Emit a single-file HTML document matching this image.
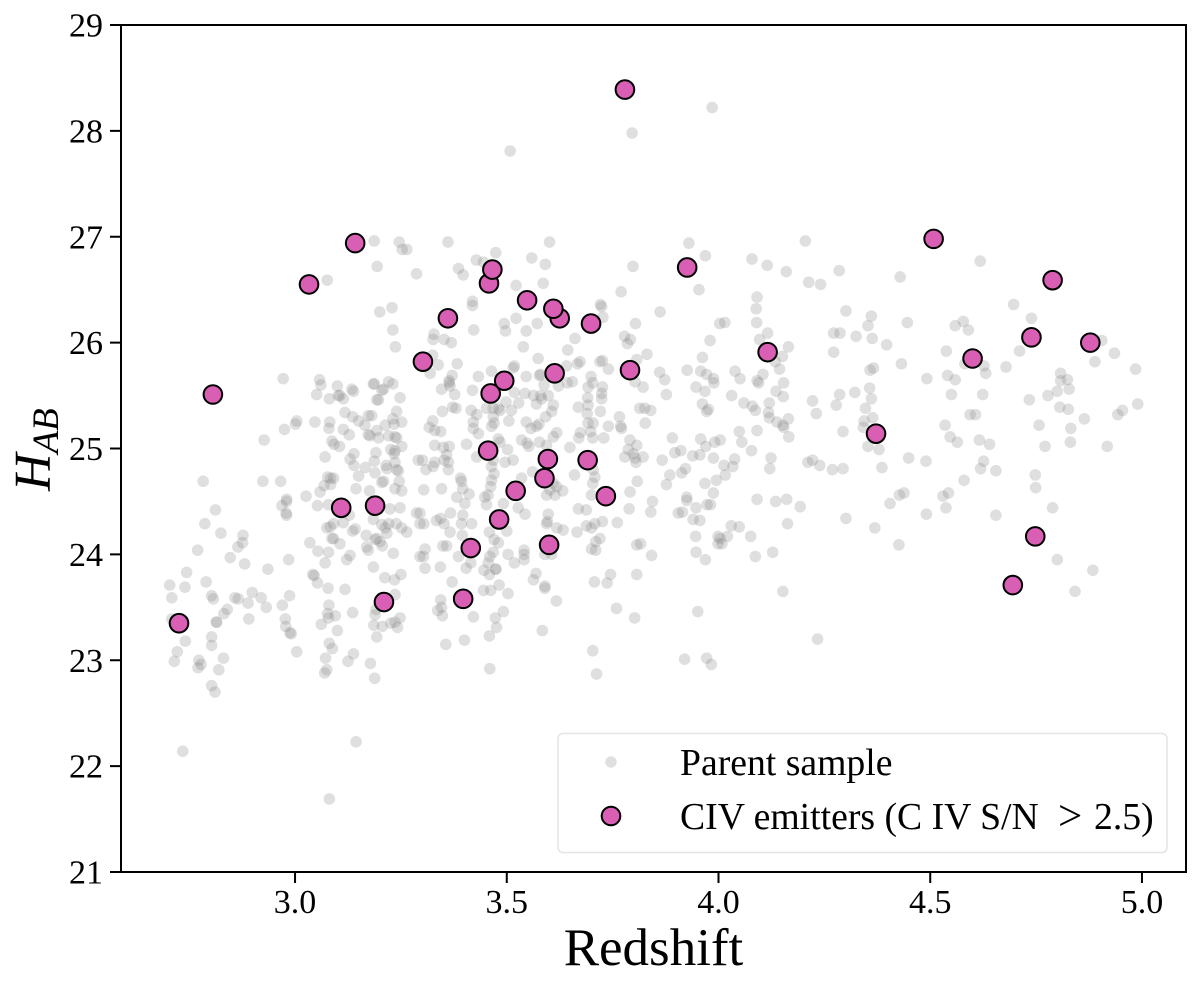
<!DOCTYPE html>
<html lang="en">
<head>
<meta charset="utf-8">
<title>Redshift vs H_AB</title>
<style>
html,body{margin:0;padding:0;background:#fff;}
svg{display:block;font-family:"Liberation Serif","DejaVu Serif",serif;}
</style>
</head>
<body>
<svg id="chart" xmlns="http://www.w3.org/2000/svg" width="1200" height="990" viewBox="0 0 1200 990">
  <rect x="0" y="0" width="1200" height="990" fill="#ffffff"/>
  <g id="parent-layer"></g>
  <g id="civ-layer"></g>
  <rect x="121" y="25" width="1065" height="847" fill="none" stroke="#000" stroke-width="2"/>
  <g id="x-ticks"></g>
  <g id="y-ticks"></g>
  <text x="653.5" y="965" font-size="53" text-anchor="middle" fill="#000">Redshift</text>
  <text transform="translate(50,491) rotate(-90)" fill="#000" font-style="italic" font-size="52">H<tspan font-size="37" dy="8">AB</tspan></text>
  <g>
    <rect x="558" y="733.5" width="609" height="119" rx="5" ry="5" fill="#fff" fill-opacity="0.8" stroke="#e4e4e4" stroke-width="1.5"/>
    <circle cx="611" cy="762" r="5.7" fill="#808080" fill-opacity="0.25"/>
    <text x="680" y="775" font-size="37.7" fill="#000">Parent sample</text>
    <circle cx="611" cy="816" r="9.3" fill="#d95fb5" stroke="#000" stroke-width="2"/>
    <text x="680" y="829" font-size="37.7" fill="#000">CIV emitters (C IV S/N<tspan x="1058" dy="1" font-size="43">&gt;</tspan><tspan x="1094" dy="-1">2.5)</tspan></text>
  </g>
</svg>
<script>
const xTickLabels = ["3.0","3.5","4.0","4.5","5.0"];
const yTickLabels = ["21","22","23","24","25","26","27","28","29"];
const xDomain = [2.589, 5.104];
const yDomain = [21, 29];
const civEmitters = [
[2.726,23.35],[2.806,25.51],[3.033,26.55],[3.142,26.94],[3.109,24.44],[3.189,24.46],[3.210,23.55],[3.302,25.82],
[3.361,26.23],[3.458,26.56],[3.466,26.69],[3.462,25.52],[3.494,25.64],[3.456,24.98],[3.548,26.40],[3.625,26.23],
[3.610,26.32],[3.699,26.18],[3.613,25.71],[3.791,25.74],[3.779,28.39],[3.926,26.71],[3.597,24.90],[3.589,24.72],
[3.691,24.89],[3.521,24.60],[3.734,24.55],[3.482,24.33],[3.600,24.09],[3.415,24.06],[3.397,23.58],[4.508,26.98],
[4.789,26.59],[4.116,25.91],[4.739,26.05],[4.878,26.00],[4.600,25.85],[4.372,25.14],[4.748,24.17],[4.695,23.71]
];
const parentSample = [
[3.508,27.81],[3.796,27.98],[3.985,28.22],
[3.187,26.96],[3.246,26.95],[3.253,26.88],[3.264,26.88],[3.194,26.72],[3.287,26.65],[3.076,26.59],[3.229,26.33],[3.200,26.29],[3.231,26.12],[3.237,25.96],
[2.972,25.66],[3.058,25.65],[3.061,25.60],[3.100,25.59],[3.051,25.51],[3.081,25.47],[3.102,25.50],[3.106,25.50],[3.114,25.47],[3.134,25.56],[3.138,25.54],
[3.185,25.61],[3.187,25.61],[3.205,25.55],[3.209,25.56],[3.221,25.63],[3.231,25.61],[3.248,25.48],[3.193,25.46],[3.197,25.46],[3.118,25.34],[3.136,25.30],
[3.150,25.26],[3.165,25.22],[3.173,25.31],[3.181,25.31],[3.240,25.35],[3.252,25.25],[3.231,25.28],[3.213,25.22],[3.234,25.23],[3.193,25.17],[3.177,25.12],
[3.197,25.10],[3.173,25.13],[3.221,25.12],[3.236,25.11],[3.240,25.10],[3.252,25.02],[3.004,25.26],[3.001,25.23],[2.975,25.18],[3.047,25.25],[3.082,25.25],
[3.080,25.19],[3.114,25.18],[3.128,25.13],[2.927,25.08],[3.087,25.07],[3.092,25.04],[3.105,25.02],[3.139,24.95],[3.191,24.96],[3.226,24.99],[3.236,24.98],
[3.234,24.95],[3.071,24.92],[3.130,24.90],[3.139,24.84],[3.166,24.82],[3.187,24.88],[3.189,24.77],[3.217,24.81],[3.215,24.84],[3.236,24.87],[3.240,24.80],
[3.244,24.79],[3.291,24.89],[3.150,24.74],[3.077,24.73],[3.084,24.72],[3.091,24.72],[3.069,24.65],[3.084,24.66],[3.205,24.68],[3.209,24.69],[3.246,24.69],
[2.783,24.69],[2.924,24.69],[2.966,24.69],[3.144,24.62],[3.176,24.60],[3.236,24.62],[3.252,24.60],[3.059,24.59],[3.026,24.55],[2.980,24.52],
[2.812,24.42],[2.787,24.29],[2.825,24.20],[2.877,24.18],[2.876,24.11],[2.865,24.07],[2.770,24.04],[2.847,23.97],[2.881,23.91],[2.936,23.86],[2.744,23.83],
[2.790,23.74],[2.704,23.71],[2.740,23.69],[2.709,23.59],[2.803,23.61],[2.807,23.58],[2.858,23.59],[2.866,23.58],[2.889,23.54],[2.899,23.64],[2.920,23.59],
[2.932,23.50],[2.840,23.48],[2.832,23.44],[2.891,23.39],[2.814,23.36],[2.815,23.36],[2.709,23.39],[2.803,23.22],[2.803,23.14],[2.741,23.18],[2.722,23.08],
[2.715,22.99],[2.773,23.00],[2.778,22.96],[2.771,22.93],[2.831,23.02],[2.820,22.91],[2.803,22.76],[2.811,22.70],[2.735,22.14],[3.144,22.23],[3.081,21.69],
[2.969,24.46],[2.980,24.50],[2.979,24.39],[2.980,24.37],[2.985,23.95],[2.987,23.61],[2.970,23.52],[2.977,23.39],[2.978,23.32],[2.988,23.26],[2.991,23.25],
[3.004,23.08],[3.053,24.46],[3.079,24.47],[3.091,24.29],[3.075,24.25],[3.083,24.26],[3.114,24.30],[3.128,24.37],[3.136,24.22],[3.142,24.24],[3.087,24.15],
[3.091,24.15],[3.106,24.10],[3.035,24.11],[3.054,24.03],[3.079,24.02],[3.071,23.92],[3.130,23.99],[3.122,23.95],[3.042,23.81],[3.045,23.80],[3.053,23.73],
[3.078,23.68],[3.118,23.67],[3.080,23.52],[3.077,23.44],[3.095,23.42],[3.079,23.40],[3.062,23.34],[3.136,23.45],[3.100,23.28],[3.081,23.16],[3.088,23.11],
[3.072,23.02],[3.138,23.06],[3.125,22.99],[3.075,22.91],[3.070,22.88],[3.178,22.97],[3.188,22.83],[3.168,24.18],[3.185,24.33],[3.205,24.28],[3.221,24.29],
[3.239,24.29],[3.252,24.25],[3.264,24.21],[3.217,24.20],[3.213,24.25],[3.193,24.15],[3.201,24.12],[3.189,24.14],[3.169,24.07],[3.173,24.04],[3.206,24.08],
[3.232,24.01],[3.185,23.88],[3.212,23.78],[3.235,23.76],[3.250,23.81],[3.236,23.62],[3.191,23.48],[3.189,23.43],[3.186,23.33],[3.206,23.32],[3.226,23.35],
[3.236,23.36],[3.248,23.40],[3.242,23.31],[3.193,23.22],[3.224,24.43],[3.248,24.44],[3.287,24.39],[3.295,24.29],[3.295,23.98],
[3.361,26.95],[3.601,26.95],[3.930,26.94],[3.969,26.82],[3.474,26.85],[3.428,26.78],[3.445,26.76],[3.559,26.80],[3.591,26.74],[3.386,26.70],[3.397,26.64],
[3.798,26.72],[3.522,26.54],[3.586,26.56],[3.770,26.48],[3.954,26.50],[3.419,26.39],[3.419,26.35],[3.721,26.36],[3.724,26.34],[3.727,26.24],[3.862,26.29],
[3.522,26.23],[3.494,26.18],[3.497,26.11],[3.422,26.12],[3.546,26.11],[3.572,26.18],[3.804,26.18],[4.003,26.18],[3.328,26.08],[3.326,26.03],[3.352,26.03],
[3.369,26.00],[3.661,26.04],[3.778,26.06],[3.792,26.03],[3.785,25.99],[3.980,26.02],[3.539,25.96],[3.644,25.93],[3.325,25.88],[3.338,25.79],[3.319,25.71],
[3.383,25.80],[3.574,25.85],[3.831,25.89],[3.962,25.86],[3.518,25.78],[3.515,25.76],[3.464,25.73],[3.433,25.68],[3.546,25.68],[3.580,25.70],[3.577,25.69],
[3.641,25.78],[3.667,25.80],[3.673,25.82],[3.720,25.82],[3.726,25.83],[3.740,25.75],[3.807,25.84],[3.861,25.72],[3.926,25.74],[3.958,25.73],[3.972,25.70],
[3.988,25.66],[3.989,25.62],[3.873,25.65],[3.803,25.63],[3.822,25.58],[3.947,25.58],[3.968,25.54],[3.877,25.51],[3.371,25.69],[3.364,25.64],[3.364,25.62],
[3.366,25.59],[3.346,25.56],[3.377,25.51],[3.419,25.55],[3.518,25.53],[3.543,25.52],[3.563,25.50],[3.580,25.50],[3.598,25.50],[3.588,25.60],[3.622,25.59],
[3.643,25.62],[3.655,25.63],[3.699,25.68],[3.703,25.62],[3.692,25.58],[3.726,25.58],[3.724,25.52],[3.724,25.47],[3.691,25.48],[3.692,25.41],[3.669,25.39],
[3.690,25.33],[3.721,25.35],[3.814,25.38],[3.826,25.38],[3.840,25.36],[3.962,25.42],[3.976,25.37],[3.972,25.35],[3.498,25.44],[3.528,25.43],[3.480,25.38],
[3.511,25.36],[3.452,25.38],[3.468,25.38],[3.484,25.36],[3.570,25.42],[3.582,25.47],[3.610,25.41],[3.606,25.35],[3.592,25.30],[3.576,25.23],[3.570,25.21],
[3.557,25.19],[3.546,25.25],[3.505,25.26],[3.468,25.30],[3.470,25.24],[3.464,25.21],[3.416,25.36],[3.429,25.32],[3.421,25.25],[3.421,25.19],[3.433,25.14],
[3.372,25.39],[3.380,25.38],[3.348,25.35],[3.325,25.26],[3.317,25.20],[3.330,25.17],[3.344,25.16],[3.766,25.30],[3.769,25.21],[3.771,25.19],[3.740,25.21],
[3.704,25.24],[3.692,25.24],[3.698,25.16],[3.703,25.10],[3.674,25.15],[3.670,25.10],[3.729,25.10],[3.827,25.24],[3.618,25.15],[3.610,25.11],[3.594,25.03],
[3.577,25.06],[3.535,25.08],[3.548,25.05],[3.552,25.02],[3.480,25.09],[3.484,25.06],[3.502,24.99],[3.405,25.04],[3.330,25.03],[3.364,25.02],[3.350,25.01],
[3.358,24.94],[3.352,24.89],[3.362,24.87],[3.362,24.80],[3.330,24.87],[3.326,24.83],[3.309,24.80],[3.301,24.89],[3.429,24.92],[3.496,24.87],[3.515,24.89],
[3.468,24.89],[3.464,24.83],[3.470,24.76],[3.464,24.70],[3.462,24.64],[3.456,24.56],[3.448,24.54],[3.391,24.72],[3.393,24.69],[3.396,24.62],[3.411,24.57],
[3.346,24.62],[3.304,24.61],[3.382,24.54],[3.535,24.72],[3.561,24.78],[3.610,24.67],[3.618,24.64],[3.602,24.61],[3.632,24.60],[3.594,24.56],[3.614,24.56],
[3.649,25.01],[3.660,24.75],[3.704,24.80],[3.708,24.73],[3.703,24.67],[3.700,24.56],[3.791,25.08],[3.807,25.03],[3.787,24.99],[3.799,24.95],[3.779,24.92],
[3.803,24.91],[3.805,24.87],[3.822,24.92],[3.867,24.89],[3.891,25.10],[3.897,24.96],[3.911,24.98],[3.939,24.93],[3.958,25.09],[3.956,24.94],[3.970,25.02],
[3.991,25.06],[3.988,24.91],[3.922,24.81],[3.913,24.77],[3.885,24.75],[3.808,24.69],[3.877,24.66],[3.791,24.59],[3.925,24.54],[3.968,24.67],[3.988,24.58],[3.995,24.70],
[3.295,24.39],[3.304,24.29],[3.334,24.32],[3.344,24.34],[3.352,24.29],[3.367,24.39],[3.396,24.37],[3.393,24.29],[3.417,24.29],[3.366,24.21],[3.395,24.18],
[3.307,24.05],[3.349,24.08],[3.358,24.08],[3.303,23.98],[3.386,23.98],[3.307,23.87],[3.343,23.88],[3.404,23.87],[3.415,23.92],[3.371,23.74],[3.344,23.57],
[3.346,23.50],[3.337,23.47],[3.348,23.42],[3.421,23.41],[3.400,23.19],[3.356,23.15],[3.460,22.92],[3.459,23.23],[3.476,23.31],[3.473,23.40],[3.492,23.46],
[3.503,23.63],[3.482,23.71],[3.462,23.66],[3.445,23.66],[3.474,23.86],[3.474,23.86],[3.459,23.81],[3.446,23.85],[3.456,23.92],[3.460,23.98],[3.468,24.02],
[3.480,24.11],[3.470,24.14],[3.459,24.21],[3.500,24.22],[3.543,24.38],[3.527,24.44],[3.492,24.48],[3.452,24.47],[3.401,24.48],[3.503,24.00],[3.518,23.92],
[3.541,24.04],[3.541,24.00],[3.541,23.95],[3.569,23.82],[3.563,23.76],[3.590,23.70],[3.590,23.68],[3.617,23.56],[3.584,23.28],[3.598,24.38],[3.596,24.31],
[3.594,24.29],[3.618,24.25],[3.633,24.23],[3.590,24.00],[3.606,24.00],[3.666,24.21],[3.688,24.27],[3.700,24.25],[3.708,24.29],[3.726,24.31],[3.761,24.30],
[3.720,24.15],[3.710,24.12],[3.700,24.05],[3.710,24.04],[3.807,24.09],[3.816,24.10],[3.842,23.99],[3.745,23.81],[3.737,23.73],[3.707,23.74],[3.807,23.81],
[3.759,23.49],[3.802,23.40],[3.703,23.09],[3.712,22.87],[3.920,23.01],[3.972,23.02],[3.983,22.96],[3.951,23.46],[3.946,24.17],[3.947,24.02],[3.969,23.95],
[3.940,24.33],[3.956,24.32],[3.905,24.39],[3.915,24.40],[3.840,24.40],[3.789,24.43],[3.669,24.43],[3.688,24.42],[3.947,24.44],[3.973,24.47],[3.981,24.47],
[3.999,24.17],[3.999,24.10],[3.925,24.51],[3.844,24.50],
[4.205,26.96],[4.079,26.79],[4.115,26.73],[4.160,26.67],[4.285,26.68],[4.213,26.57],[4.241,26.55],[4.429,26.62],[4.618,26.77],[4.091,26.43],[4.089,26.32],
[4.015,26.19],[4.090,26.19],[4.301,26.30],[4.361,26.25],[4.353,26.16],[4.446,26.19],[4.272,26.09],[4.287,26.09],[4.325,26.06],[4.363,26.04],[4.397,25.98],
[4.116,26.09],[4.097,26.03],[4.165,25.96],[4.272,25.91],[4.151,25.87],[4.134,25.82],[4.144,25.75],[4.039,25.73],[4.051,25.66],[4.105,25.70],[4.091,25.64],
[4.095,25.62],[4.154,25.62],[4.136,25.54],[4.153,25.49],[4.031,25.50],[4.060,25.43],[4.080,25.40],[4.087,25.36],[4.120,25.43],[4.118,25.34],[4.120,25.29],
[4.138,25.25],[4.165,25.28],[4.152,25.22],[4.154,25.20],[4.166,25.11],[4.091,25.17],[4.049,25.16],[4.055,25.06],[4.078,24.98],[4.004,25.08],[4.038,24.90],
[4.034,24.83],[4.013,24.84],[4.016,24.75],[4.124,24.91],[4.121,24.81],[4.211,24.87],[4.222,24.89],[4.239,24.84],[4.269,24.80],[4.294,24.81],[4.222,25.45],
[4.231,25.33],[4.278,25.41],[4.286,25.51],[4.322,25.53],[4.294,25.16],[4.357,25.57],[4.361,25.47],[4.347,25.38],[4.364,25.29],[4.344,25.26],[4.342,25.20],
[4.358,25.74],[4.366,25.76],[4.432,25.80],[4.353,25.02],[4.379,24.99],[4.386,24.82],[4.449,24.91],[4.490,24.88],[4.492,25.66],[4.538,25.92],[4.541,25.69],
[4.559,25.65],[4.550,25.51],[4.624,25.51],[4.559,26.16],[4.578,26.20],[4.590,26.12],[4.582,25.80],[4.627,25.78],[4.631,25.71],[4.679,25.77],[4.711,25.92],
[4.697,26.36],[4.739,26.23],[4.905,26.02],[4.935,25.90],[4.889,25.82],[4.985,25.75],[4.808,25.71],[4.808,25.64],[4.824,25.65],[4.828,25.56],[4.800,25.54],
[4.778,25.50],[4.734,25.46],[4.806,25.39],[4.826,25.37],[4.864,25.28],[4.832,25.19],[4.831,25.06],[4.771,25.02],[4.757,25.22],[4.918,25.02],[4.954,25.36],
[4.943,25.32],[4.990,25.42],[4.535,25.22],[4.547,25.11],[4.564,25.06],[4.616,25.08],[4.640,25.04],[4.594,25.32],[4.607,25.32],[4.626,24.88],[4.619,24.81],
[4.655,24.79],[4.748,24.75],[4.580,24.70],
[4.749,24.63],[4.789,24.44],[4.655,24.37],[4.543,24.58],[4.530,24.55],[4.537,24.44],[4.491,24.38],[4.438,24.58],[4.427,24.56],[4.405,24.48],[4.369,24.25],
[4.426,24.09],[4.301,24.34],[4.193,24.45],[4.161,24.52],[4.135,24.50],[4.091,24.52],[4.163,24.29],[4.049,24.26],[4.030,24.27],[4.021,24.17],[4.008,24.10],
[4.004,24.15],[4.076,24.17],[4.128,24.02],[4.087,23.98],[4.152,23.65],[4.234,23.20],[4.800,23.95],[4.884,23.85],[4.842,23.65]
];

const SVG_NS = "http://www.w3.org/2000/svg";
function xScale(v){ return 121 + (v - xDomain[0]) / (xDomain[1] - xDomain[0]) * 1065; }
function yScale(v){ return 872 - (v - yDomain[0]) / (yDomain[1] - yDomain[0]) * 847; }

const parentLayer = document.getElementById("parent-layer");
parentSample.forEach(function(p){
  const el = document.createElementNS(SVG_NS, "circle");
  
  
  el.setAttribute("cx", xScale(p[0]));
  el.setAttribute("cy", yScale(p[1]));
  el.setAttribute("r", 5.8);
  el.setAttribute("fill", "#808080");
  el.setAttribute("fill-opacity", "0.25");
  parentLayer.appendChild(el);
});

const civLayer = document.getElementById("civ-layer");
civEmitters.forEach(function(p){
  const el = document.createElementNS(SVG_NS, "circle");
  
  
  el.setAttribute("cx", xScale(p[0]));
  el.setAttribute("cy", yScale(p[1]));
  el.setAttribute("r", 9.3);
  el.setAttribute("fill", "#d95fb5");
  el.setAttribute("stroke", "#000");
  el.setAttribute("stroke-width", 2);
  civLayer.appendChild(el);
});

const xTicks = document.getElementById("x-ticks");
xTickLabels.forEach(function(label){
  const x = xScale(parseFloat(label));
  const line = document.createElementNS(SVG_NS, "line");
  
  
  line.setAttribute("x1", x);
  line.setAttribute("x2", x);
  line.setAttribute("y1", 872);
  line.setAttribute("y2", 883);
  line.setAttribute("stroke", "#000");
  line.setAttribute("stroke-width", 2);
  xTicks.appendChild(line);
  const text = document.createElementNS(SVG_NS, "text");
  
  
  text.setAttribute("x", x);
  text.setAttribute("y", 913);
  text.setAttribute("font-size", 34);
  text.setAttribute("text-anchor", "middle");
  text.textContent = label;
  xTicks.appendChild(text);
});

const yTicks = document.getElementById("y-ticks");
yTickLabels.forEach(function(label){
  const y = yScale(parseFloat(label));
  const line = document.createElementNS(SVG_NS, "line");
  
  
  line.setAttribute("x1", 110);
  line.setAttribute("x2", 121);
  line.setAttribute("y1", y);
  line.setAttribute("y2", y);
  line.setAttribute("stroke", "#000");
  line.setAttribute("stroke-width", 2);
  yTicks.appendChild(line);
  const text = document.createElementNS(SVG_NS, "text");
  
  
  text.setAttribute("x", 103);
  text.setAttribute("y", y + 11.5);
  text.setAttribute("font-size", 34);
  text.setAttribute("text-anchor", "end");
  text.textContent = label;
  yTicks.appendChild(text);
});
</script>
</body>
</html>
